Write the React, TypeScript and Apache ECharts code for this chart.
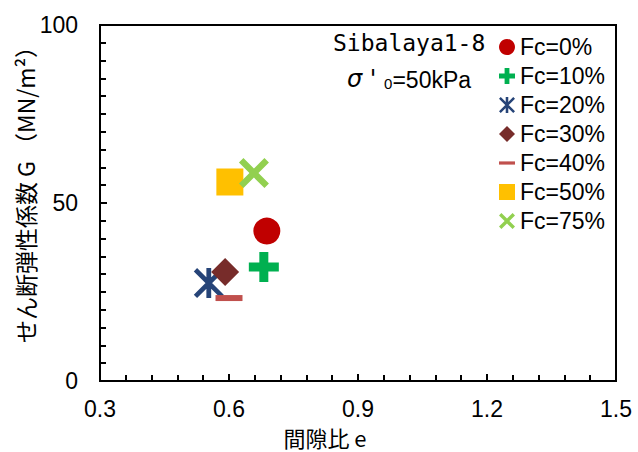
import React, { useEffect, useRef } from "react";
import * as echarts from "echarts";

const seriesNames = ["Fc=0%", "Fc=10%", "Fc=20%", "Fc=30%", "Fc=40%", "Fc=50%", "Fc=75%"];
const voidRatio = [0.688, 0.681, 0.553, 0.591, 0.6, 0.602, 0.658];
const shearModulus = [42.1, 32.0, 27.5, 30.6, 23.3, 55.9, 58.4];
const colors = ["#C00000", "#00B050", "#264478", "#772C2A", "#C0504D", "#FFC000", "#92D050"];
const xTicks = { min: 0.3, max: 1.5, interval: 0.3 };
const yTicks = { min: 0, max: 100, interval: 50 };

const PLUS = "path://M3.5,0H6.5V3.5H10V6.5H6.5V10H3.5V6.5H0V3.5H3.5Z";
const XMARK = "path://M0,1.5L1.5,0L5,3.5L8.5,0L10,1.5L6.5,5L10,8.5L8.5,10L5,6.5L1.5,10L0,8.5L3.5,5Z";
const ASTER = "path://M0,1.1L1.1,0L10,8.9L8.9,10ZM8.9,0L10,1.1L1.1,10L0,8.9ZM4.2,0H5.8V10H4.2Z";
const DASH = "path://M0,0H10V2H0Z";

const symbols = ["circle", PLUS, ASTER, "diamond", DASH, "rect", XMARK];
const symbolSizes: any[] = [27, 30, 30, 28, [27, 6], 27, 30];

export default function App() {
  const ref = useRef<HTMLDivElement>(null);
  useEffect(() => {
    document.body.style.margin = "0";
    const chart = echarts.init(ref.current!, null, { renderer: "svg" });
    const font = "'Liberation Sans', Arial, sans-serif";
    const series = seriesNames.map((name, i) => ({
      name,
      type: "scatter",
      symbol: symbols[i],
      symbolSize: symbolSizes[i],
      itemStyle: { color: colors[i], opacity: 1 },
      data: [[voidRatio[i], shearModulus[i]]],
      z: 3,
    }));
    chart.setOption({
      animation: false,
      grid: { left: 100, top: 25, right: 22, bottom: 71, show: true, borderColor: "#000", borderWidth: 2, backgroundColor: "transparent" },
      xAxis: {
        type: "value",
        min: xTicks.min,
        max: xTicks.max,
        interval: xTicks.interval,
        axisLine: { lineStyle: { color: "#000", width: 2 } },
        axisTick: { inside: true, length: 7, lineStyle: { color: "#000", width: 2 } },
        minorTick: { show: true, splitNumber: 5, length: 6, lineStyle: { color: "#000", width: 2 } },
        splitLine: { show: false },
        axisLabel: { color: "#000", fontSize: 23, lineHeight: 22, fontFamily: font, margin: 17, formatter: (v: number) => v.toFixed(1) },
      },
      yAxis: {
        type: "value",
        min: yTicks.min,
        max: yTicks.max,
        interval: yTicks.interval,
        axisLine: { lineStyle: { color: "#000", width: 2 } },
        axisTick: { inside: true, length: 7, lineStyle: { color: "#000", width: 2 } },
        minorTick: { show: true, splitNumber: 10, length: 6, lineStyle: { color: "#000", width: 2 } },
        splitLine: { show: false },
        axisLabel: { color: "#000", fontSize: 23, fontFamily: font, margin: 22 },
      },
      legend: {
        orient: "vertical",
        left: 494,
        top: 30,
        itemWidth: 16,
        itemHeight: 16,
        itemGap: 5,
        textStyle: { color: "#000", fontSize: 23, fontFamily: font, lineHeight: 24 },
        data: seriesNames.map((n, i) => ({ name: n, icon: symbols[i] })),
      },
      graphic: [
        {
          type: "text",
          left: 333,
          top: 31,
          style: { text: "Sibalaya1-8", fontSize: 23, fontFamily: "'DejaVu Sans Mono', monospace", fill: "#000" },
        },
        {
          type: "text",
          left: 347,
          top: 67,
          style: {
            text: "{a|σ ' }{s|0}{b|=50kPa}",
            rich: {
              a: { fontSize: 24, fontFamily: "'DejaVu Sans', sans-serif", fontStyle: "italic", fill: "#000", verticalAlign: "bottom" },
              s: { fontSize: 15, fontFamily: font, fill: "#000", padding: [10, 0, 0, 0], verticalAlign: "bottom" },
              b: { fontSize: 23, fontFamily: font, fill: "#000", verticalAlign: "bottom" },
            },
          },
        },
        {
          type: "text",
          x: 25,
          y: 189,
          rotation: Math.PI / 2,
          style: {
            text: "せん断弾性係数 G （MN/m²）",
            fontSize: 23,
            fontFamily: "'Noto Sans CJK JP', sans-serif",
            fill: "#000",
            align: "center",
            verticalAlign: "middle",
          },
        },
        {
          type: "text",
          x: 325,
          y: 437,
          style: {
            text: "間隙比 e",
            fontSize: 22,
            lineHeight: 22,
            fontFamily: "'Noto Sans CJK JP', sans-serif",
            fill: "#000",
            align: "center",
            verticalAlign: "middle",
          },
        },
      ],
      series,
    });
    return () => chart.dispose();
  }, []);
  return <div ref={ref} style={{ width: 638, height: 452 }} />;
}
